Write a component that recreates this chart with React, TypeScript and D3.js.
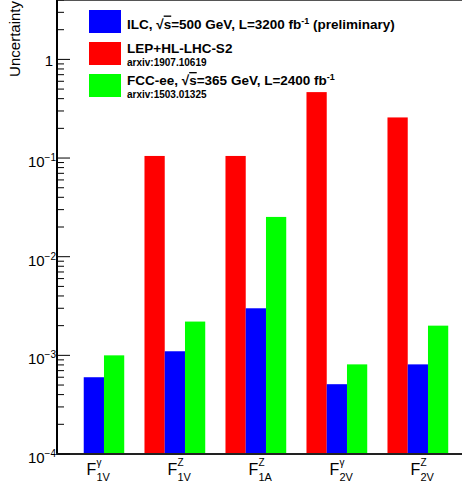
import React from "react";
import * as d3 from "d3";

// couplings on the x axis
const categories = ["F1Vg", "F1VZ", "F1AZ", "F2Vg", "F2VZ"];
const catSup = ["γ", "Z", "Z", "γ", "Z"];
const catSub = ["1V", "1V", "1A", "2V", "2V"];

// uncertainty per experiment (null = not shown)
const lepValues = [null, 0.105, 0.105, 0.466, 0.258];
const ilcValues = [6.0e-4, 1.1e-3, 3.0e-3, 5.1e-4, 8.1e-4];
const fccValues = [1.0e-3, 2.2e-3, 0.0253, 8.1e-4, 2.0e-3];

const yMajorTicks = [1e-4, 1e-3, 1e-2, 1e-1, 1];
const yExponents = ["−4", "−3", "−2", "−1", ""];

const series = [
  { key: "lep", values: lepValues, color: "#ff0000" },
  { key: "ilc", values: ilcValues, color: "#0000ff" },
  { key: "fcc", values: fccValues, color: "#00ff00" },
];

const width = 462;
const height = 490;
const marginLeft = 57;
const marginTop = 0;
const marginBottom = 36;

export default function App() {
  const x = d3
    .scaleBand()
    .domain(categories)
    .range([marginLeft, width]);
  const y = d3
    .scaleLog()
    .domain([1e-4, 4])
    .range([height - marginBottom, marginTop]);

  const bw = x.bandwidth();
  const barOffset = 0.08 * bw;
  const barWidth = 0.25 * bw;

  // minor ticks 2..9 per decade
  const minorTicks: number[] = [];
  for (let e = -4; e <= 0; e++) {
    for (let m = 2; m <= 9; m++) {
      const v = m * Math.pow(10, e);
      if (v <= 4) minorTicks.push(v);
    }
  }

  const y0 = y(1e-4);
  const font = "'Liberation Sans', Arial, sans-serif";

  return (
    <svg
      width={width}
      height={height}
      style={{ position: "absolute", left: 0, top: 0, background: "#fff" }}
      fontFamily={font}
    >
      {/* bars */}
      {series.map((s, si) =>
        s.values.map((v, i) =>
          v == null ? null : (
            <rect
              key={s.key + i}
              x={x(categories[i])! + barOffset + si * barWidth}
              y={y(v)}
              width={barWidth}
              height={y0 - y(v)}
              fill={s.color}
            />
          )
        )
      )}

      {/* frame */}
      <line x1={marginLeft} x2={width} y1={0.5} y2={0.5} stroke="#555" />
      <line x1={marginLeft} x2={marginLeft} y1={0} y2={y0 + 1} stroke="#000" strokeWidth={2} />
      <line x1={marginLeft - 1} x2={width} y1={y0} y2={y0} stroke="#222" strokeWidth={2} />

      {/* y ticks */}
      {yMajorTicks.map((t) => (
        <line key={"M" + t} x1={marginLeft} x2={marginLeft + 13} y1={y(t)} y2={y(t)} stroke="#000" />
      ))}
      {minorTicks.map((t) => (
        <line key={"m" + t} x1={marginLeft} x2={marginLeft + 7} y1={y(t)} y2={y(t)} stroke="#000" />
      ))}
      {yMajorTicks.map((t, i) =>
        t === 1 ? (
          <text key={"l" + t} x={53} y={y(t) + 7} fontSize={15} textAnchor="end">
            1
          </text>
        ) : (
          <text key={"l" + t} x={56} y={y(t) + 9} fontSize={15} textAnchor="end">
            10
            <tspan dy={-6} fontSize={10}>
              {yExponents[i]}
            </tspan>
          </text>
        )
      )}

      {/* y title */}
      <text
        transform="translate(20,1) rotate(-90)"
        fontSize={15}
        textAnchor="end"
      >
        Uncertainty
      </text>

      {/* x labels */}
      {categories.map((c, i) => {
        const cx = x(c)! + bw / 2;
        return (
          <g key={c} transform={`translate(${cx - 11},475)`}>
            <text fontSize={16}>F</text>
            <text x={10} y={-9} fontSize={10}>
              {catSup[i]}
            </text>
            <text x={10} y={6} fontSize={11}>
              {catSub[i]}
            </text>
          </g>
        );
      })}

      {/* legend */}
      <g fontWeight="bold">
        <rect x={89} y={10} width={32} height={23} fill="#0000ff" />
        <rect x={89} y={42} width={32} height={23} fill="#ff0000" />
        <rect x={89} y={74} width={32} height={23} fill="#00ff00" />
        <text x={127} y={28.5} fontSize={13.5}>
          ILC,{"  "}√<tspan style={{ textDecoration: "overline" }}>s</tspan>=500 GeV, L=3200 fb
          <tspan dy={-5} fontSize={9}>-1</tspan>
          <tspan dy={5}> (preliminary)</tspan>
        </text>
        <text x={127} y={53} fontSize={13.5}>
          LEP+HL-LHC-S2
        </text>
        <text x={127} y={66} fontSize={10}>
          arxiv:1907.10619
        </text>
        <text x={127} y={85} fontSize={13.5}>
          FCC-ee,{"  "}√<tspan style={{ textDecoration: "overline" }}>s</tspan>=365 GeV, L=2400 fb
          <tspan dy={-5} fontSize={9}>-1</tspan>
        </text>
        <text x={127} y={98} fontSize={10}>
          arxiv:1503.01325
        </text>
      </g>
    </svg>
  );
}
